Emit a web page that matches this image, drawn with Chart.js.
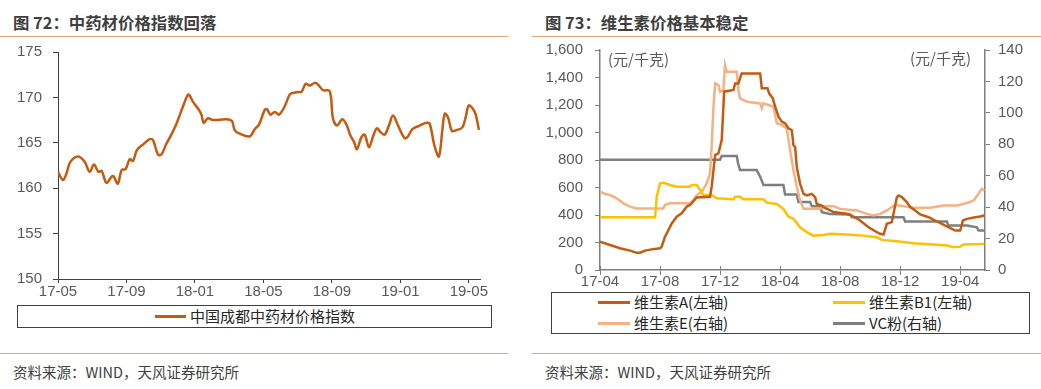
<!DOCTYPE html>
<html><head><meta charset="utf-8">
<script src="https://cdn.jsdelivr.net/npm/chart.js@4/dist/chart.umd.min.js"></script>
<style>
body{margin:0;width:1041px;height:389px;background:#fff;position:relative;overflow:hidden;font-family:"Noto Sans CJK SC","Noto Sans",sans-serif;}
.abs{position:absolute;white-space:nowrap}
.title{font-size:16.4px;font-weight:bold;color:#3f3f3f;line-height:20px}
.rule{position:absolute;height:1px;background:#E2A56E}
.src{font-size:14.5px;color:#404040;line-height:18px}
.legend{position:absolute;border:1px solid #404040;box-sizing:border-box}
.li{position:absolute;display:flex;align-items:center;font-size:15px;color:#262626;white-space:nowrap;line-height:18px;height:18px}
.sw{display:inline-block;height:3px;margin-right:4px}
.unit{font-size:15px;color:#595959;line-height:18px}
canvas{position:absolute}
</style></head>
<body>
<div class="abs title" style="left:13px;top:12px">图 72：中药材价格指数回落</div>
<div class="abs title" style="left:545px;top:12px">图 73：维生素价格基本稳定</div>
<div class="rule" style="left:0;top:36px;width:508px"></div>
<div class="rule" style="left:532px;top:36px;width:509px"></div>
<div class="rule" style="left:0;top:353px;width:508px"></div>
<div class="rule" style="left:532px;top:353px;width:509px"></div>
<div class="abs src" style="left:13px;top:363px">资料来源：WIND，天风证券研究所</div>
<div class="abs src" style="left:545px;top:363px">资料来源：WIND，天风证券研究所</div>

<canvas id="c1" width="500" height="262" style="left:0;top:40px"></canvas>
<canvas id="c2" width="521" height="250" style="left:520px;top:40px"></canvas>

<div class="abs unit" style="left:608px;top:50px">(元/千克)</div>
<div class="abs unit" style="left:910px;top:49px">(元/千克)</div>

<div class="legend" id="lg1" style="left:17px;top:305px;width:475px;height:23px"></div>
<div class="legend" id="lg2" style="left:551px;top:292px;width:479px;height:42px"></div>

<script>
// ---------- Chart 72: TCM price index ----------
const tcmTickLabels = ['17-05','17-09','18-01','18-05','18-09','19-01','19-05'];
// months elapsed since 2017-05
const tcmMonth = [0,0.29,0.49,0.72,1.17,1.56,1.85,2.10,2.36,2.55,2.83,3.15,3.25,3.49,3.72,3.95,4.19,4.38,4.61,4.96,5.36,5.55,5.84,6.04,6.33,6.62,6.92,7.30,7.59,7.69,7.89,8.24,8.38,8.51,8.76,9.05,9.84,10.16,10.32,10.61,11.20,11.49,11.74,12.07,12.21,12.41,12.66,12.91,13.24,13.53,13.73,14.02,14.22,14.47,14.70,15.00,15.19,15.48,15.87,16.06,16.30,16.61,16.85,17.08,17.29,17.46,17.72,17.91,18.17,18.40,18.63,18.83,19.08,19.33,19.57,19.86,20.25,20.44,20.70,21.13,21.52,21.71,22.00,22.25,22.45,22.59,22.78,23.01,23.27,23.62,23.81,23.99,24.21,24.40,24.59];
const tcmIndex = [161.8,160.9,161.6,162.9,163.5,162.9,161.8,162.6,161.8,161.9,160.6,161.3,161.3,160.5,162.0,162.1,163.2,163.0,164.2,164.8,165.4,165.3,163.7,163.7,164.9,165.9,167.1,169.0,170.3,170.2,169.5,168.6,168.1,167.2,167.7,167.5,167.6,167.4,166.4,166.0,165.7,166.5,167.0,168.6,168.7,168.1,168.4,168.1,169.0,170.3,170.5,170.6,170.6,171.5,171.3,171.6,171.4,170.8,170.7,167.7,166.9,167.6,167.0,165.8,165.1,164.3,165.6,165.9,164.5,165.7,166.6,166.2,165.9,166.9,168.0,166.9,165.5,165.7,166.5,166.9,167.2,167.1,164.6,163.5,166.4,168.2,167.8,166.3,166.4,166.7,167.8,169.1,168.8,168.1,166.4];

// ---------- Chart 73: vitamin prices ----------
const vitTickLabels = ['17-04','17-08','17-12','18-04','18-08','18-12','19-04'];
// months elapsed since 2017-04
const vitAMonth = [0,0.67,1.33,2.0,2.44,2.67,3.0,3.44,4.0,4.11,4.33,4.56,4.78,5.11,5.44,5.78,6.0,6.44,7.33,7.44,7.67,7.89,8.11,8.27,8.89,9.0,9.22,9.44,10.67,10.78,11.16,11.27,11.51,11.67,11.89,12.11,12.33,12.56,12.78,12.89,13.0,13.11,13.33,13.56,13.78,14.11,14.33,14.44,14.78,14.89,15.56,16.44,16.78,17.33,17.89,18.44,18.67,18.89,19.11,19.44,19.78,19.89,20.11,20.44,20.67,21.0,21.33,21.89,22.33,22.78,23.22,23.67,24.0,24.18,24.44,25.0,25.33,25.6];
const vitAPrice = [206,182,158,141,126,126,141,150,158,170,242,291,339,388,412,461,473,528,533,606,836,848,945,1297,1309,1357,1357,1430,1430,1321,1321,1285,1248,1188,1115,1079,1067,1030,1017,907,895,749,627,554,542,554,530,481,469,457,421,409,396,360,311,275,263,258,336,348,530,542,530,494,457,433,404,384,360,336,311,287,287,360,372,384,389,396];

const vitB1Month = [0,3.67,3.78,4.0,4.22,4.67,5.11,6.0,6.11,6.44,6.67,6.89,7.44,7.78,8.89,9.0,9.33,9.56,10.89,11.11,11.78,12.22,12.56,12.89,13.33,13.78,14.22,14.89,15.33,16.44,17.56,18.44,18.78,19.78,20.89,22.22,23.11,23.56,24.0,24.22,25.6];
const vitB1Price = [383,383,533,630,635,618,606,606,618,618,582,545,545,521,514,533,533,514,514,490,480,444,388,372,311,275,250,255,263,258,250,238,219,209,195,185,178,165,170,185,190];

const vitEMonth = [0,0.33,0.67,1.11,1.56,2.0,2.44,4.22,4.33,4.67,6.0,6.22,6.44,6.78,7.11,7.33,7.44,7.56,7.67,7.89,8.0,8.22,8.33,8.44,9.11,9.22,9.33,9.78,10.67,10.78,10.89,11.56,11.78,12.11,12.44,12.67,12.89,13.11,13.33,13.56,14.67,14.89,15.56,16.0,17.11,17.78,18.22,18.67,19.11,19.67,20.22,20.89,22.0,22.89,23.78,24.44,24.89,25.22,25.44,25.6];
const vitEPrice = [49.8,48.4,47.7,45.6,42.4,40.3,39.2,39.2,41.4,42.4,42.4,44.5,47.7,49.8,55.1,61.5,78.5,103.9,118.8,117.7,113.5,114.5,130.4,126.2,126.2,114.5,109.2,107.1,106.0,102.9,106.0,103.9,93.3,92.3,90.1,76,63.4,52.8,44.3,38.9,38.9,40.6,40.6,38.9,37.9,35.7,34.7,35.7,37.9,41.5,40.6,39.6,39.6,41.1,41.1,42.6,44.3,48.5,51.7,50.6];

const vcMonth = [0,8.0,8.11,9.11,9.2,9.33,10.44,10.67,10.89,12.22,12.33,13.11,13.22,14.0,14.11,14.67,14.78,15.33,16.67,16.78,20.22,20.33,23.11,23.22,24.44,25.11,25.22,25.6];
const vcPrice = [70.2,70.2,72.6,72.6,67.9,63.6,63.6,59.4,54.1,54.1,48.1,48.1,43.2,43.2,40.6,40.6,36.8,35.7,35.3,33.6,33.6,30.9,30.9,28.3,28.3,27.2,25.1,25.1];

const pair = (xs, ys) => xs.map((x, i) => ({x, y: ys[i]}));
const tickFont = {family: '"Liberation Sans", Arial, sans-serif', size: 15};
const fixV = w => s => { s.width = w; s.paddingTop = 0; s.paddingBottom = 0; };
const fixH = h => s => { s.height = h; s.paddingLeft = 0; s.paddingRight = 0; };

// small upward tick marks so the x-axis ticks cross the axis line (chart 73 style)
const crossTicks = {
  id: 'crossTicks',
  afterDraw(chart) {
    const sx = chart.scales.x, ctx = chart.ctx, yb = chart.chartArea.bottom;
    ctx.save();
    ctx.strokeStyle = '#7F7F7F'; ctx.lineWidth = 1;
    sx.ticks.forEach(t => {
      const px = Math.round(sx.getPixelForValue(t.value)) + 0.5;
      ctx.beginPath(); ctx.moveTo(px, yb - 4); ctx.lineTo(px, yb); ctx.stroke();
    });
    ctx.restore();
  }
};

new Chart(document.getElementById('c1'), {
  type: 'line',
  data: {datasets: [{
    label: '中国成都中药材价格指数', data: pair(tcmMonth, tcmIndex),
    borderColor: '#C55A11', backgroundColor: '#C55A11', borderWidth: 2.5,
    pointRadius: 0, tension: 0.35, fill: false
  }]},
  options: {
    responsive: false, animation: false, devicePixelRatio: 1,
    layout: {padding: {top: 12, right: 20, left: 0, bottom: 0}},
    plugins: {legend: {display: false}, tooltip: {enabled: false}},
    scales: {
      x: {type: 'linear', min: 0, max: 24.65,
        afterFit: fixH(23),
        afterBuildTicks: s => { s.ticks = tcmTickLabels.map((_, i) => ({value: i * 4})); },
        ticks: {callback: v => tcmTickLabels[Math.round(v / 4)], font: tickFont, color: '#595959', padding: 0, maxRotation: 0, autoSkip: false},
        grid: {drawOnChartArea: false, drawTicks: true, tickLength: 4, color: '#404040'},
        border: {color: '#404040', width: 1}},
      y: {min: 150, max: 175,
        afterFit: fixV(58),
        ticks: {stepSize: 5, font: tickFont, color: '#595959', padding: 11},
        grid: {drawOnChartArea: false, drawTicks: true, tickLength: 5, color: '#404040'},
        border: {color: '#404040', width: 1}}
    }
  }
});

const c2 = new Chart(document.getElementById('c2'), {
  type: 'line',
  data: {datasets: [
    {label: '维生素A(左轴)', data: pair(vitAMonth, vitAPrice), yAxisID: 'y', borderColor: '#C55A11'},
    {label: '维生素B1(左轴)', data: pair(vitB1Month, vitB1Price), yAxisID: 'y', borderColor: '#FFC000'},
    {label: '维生素E(右轴)', data: pair(vitEMonth, vitEPrice), yAxisID: 'y1', borderColor: '#F4B183'},
    {label: 'VC粉(右轴)', data: pair(vcMonth, vcPrice), yAxisID: 'y1', borderColor: '#7F7F7F'}
  ].map(d => Object.assign(d, {borderWidth: 2.5, pointRadius: 0, tension: 0, fill: false, backgroundColor: d.borderColor}))},
  plugins: [crossTicks],
  options: {
    responsive: false, animation: false, devicePixelRatio: 1,
    layout: {padding: {top: 10, right: 0, left: 0, bottom: 0}},
    plugins: {legend: {display: false}, tooltip: {enabled: false}},
    scales: {
      x: {type: 'linear', min: 0, max: 25.65,
        afterFit: fixH(20),
        afterBuildTicks: s => { s.ticks = vitTickLabels.map((_, i) => ({value: i * 4})); },
        ticks: {callback: v => vitTickLabels[Math.round(v / 4)], font: tickFont, color: '#595959', padding: -2, maxRotation: 0, autoSkip: false},
        grid: {drawOnChartArea: false, drawTicks: true, tickLength: 5, color: '#7F7F7F'},
        border: {color: '#7F7F7F', width: 1.5}},
      y: {position: 'left', min: 0, max: 1600,
        afterFit: fixV(80),
        ticks: {stepSize: 200, font: tickFont, color: '#595959', padding: 12},
        grid: {drawOnChartArea: false, drawTicks: true, tickLength: 5, color: '#7F7F7F'},
        border: {color: '#7F7F7F', width: 1.5}},
      y1: {position: 'right', min: 0, max: 140,
        afterFit: fixV(56),
        ticks: {stepSize: 20, font: tickFont, color: '#595959', padding: 8},
        grid: {drawOnChartArea: false, drawTicks: true, tickLength: 5, color: '#7F7F7F'},
        border: {color: '#7F7F7F', width: 1.5}}
    }
  }
});

// HTML legends built from dataset labels/colours
function addItem(box, ds, left, top, swW) {
  const it = document.createElement('div');
  it.className = 'li';
  it.style.left = left + 'px'; it.style.top = top + 'px';
  const sw = document.createElement('span');
  sw.className = 'sw'; sw.style.width = swW + 'px'; sw.style.background = ds.borderColor;
  it.appendChild(sw);
  it.appendChild(document.createTextNode(ds.label));
  box.appendChild(it);
}
addItem(document.getElementById('lg1'), {label: '中国成都中药材价格指数', borderColor: '#C55A11'}, 137, 1, 31);
const lg2 = document.getElementById('lg2');
const pos2 = [[46, 0], [281, 0], [46, 21], [281, 21]];
c2.data.datasets.forEach((ds, i) => addItem(lg2, ds, pos2[i][0], pos2[i][1], 32));
</script>
</body></html>
